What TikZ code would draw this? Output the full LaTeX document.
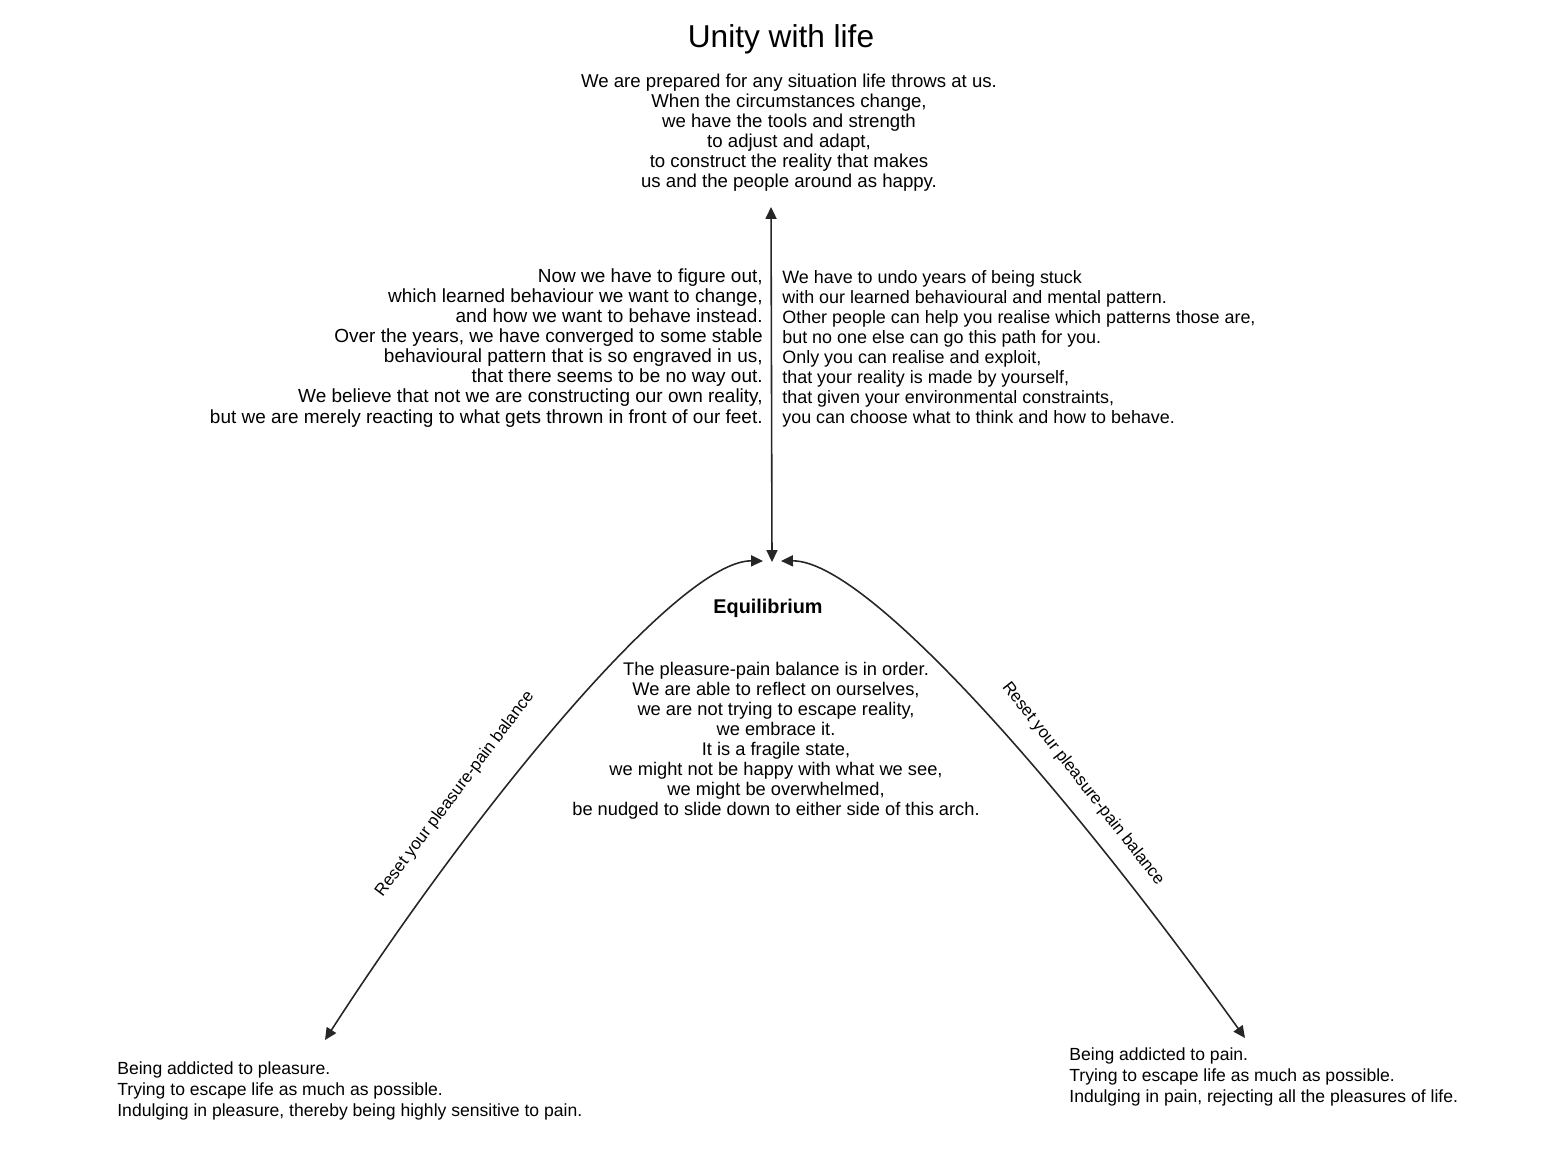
\documentclass[tikz,border=0pt]{standalone}
\usepackage{fontspec}
\setmainfont{Liberation Sans}
\usetikzlibrary{arrows.meta}
\tikzset{
  para/.style={inner sep=0pt, font=\fontsize{10.4}{11.4}\selectfont},
  lowpara/.style={inner sep=0pt, align=left, anchor=west, font=\fontsize{10}{12.2}\selectfont},
  heading/.style={inner sep=0pt, font=\fontsize{18}{20}\selectfont},
  link/.style={line width=0.9pt, draw=black!85, {Triangle[length=6.8pt,width=6.3pt]}-{Triangle[length=6.8pt,width=6.3pt]}},
  slope/.style={inner sep=0pt, font=\fontsize{9.6}{11}\selectfont},
}
\begin{document}
\begin{tikzpicture}[x=0.02cm, y=-0.02cm]
  \useasboundingbox (0,0) rectangle (1550,1158);

  % top
  \node[heading] (unity) at (781,39) {Unity with life};
  \node[para, align=center, font=\fontsize{10.6}{11.4}\selectfont] (unitytext) at (789,133) {We are prepared for any situation life throws at us.\\
    When the circumstances change,\\
    we have the tools and strength\\
    to adjust and adapt,\\
    to construct the reality that makes\\
    us and the people around as happy.};

  % the way up
  \node[para, align=right, anchor=east, font=\fontsize{10.8}{11.4}\selectfont] (learned) at (763,348) {Now we have to figure out,\\
    which learned behaviour we want to change,\\
    and how we want to behave instead.\\
    Over the years, we have converged to some stable\\
    behavioural pattern that is so engraved in us,\\
    that there seems to be no way out.\\
    We believe that not we are constructing our own reality,\\
    but we are merely reacting to what gets thrown in front of our feet.};
  \node[para, align=left, anchor=west, font=\fontsize{10.2}{11.4}\selectfont] (undo) at (782,349) {We have to undo years of being stuck\\
    with our learned behavioural and mental pattern.\\
    Other people can help you realise which patterns those are,\\
    but no one else can go this path for you.\\
    Only you can realise and exploit,\\
    that your reality is made by yourself,\\
    that given your environmental constraints,\\
    you can choose what to think and how to behave.};

  % the arch
  \node[inner sep=0pt, font=\fontsize{11.3}{13}\selectfont\bfseries] (equil) at (768,608) {Equilibrium};
  \node[para, align=center] (equiltext) at (776,741) {The pleasure-pain balance is in order.\\
    We are able to reflect on ourselves,\\
    we are not trying to escape reality,\\
    we embrace it.\\
    It is a fragile state,\\
    we might not be happy with what we see,\\
    we might be overwhelmed,\\
    be nudged to slide down to either side of this arch.};

  \node[lowpara] (pleasure) at (117,1091) {Being addicted to pleasure.\\
    Trying to escape life as much as possible.\\
    Indulging in pleasure, thereby being highly sensitive to pain.};
  \node[lowpara] (pain) at (1069,1077) {Being addicted to pain.\\
    Trying to escape life as much as possible.\\
    Indulging in pain, rejecting all the pleasures of life.};

  \node[slope, rotate=53] (resetL) at (455,794) {Reset your pleasure-pain balance};
  \node[slope, rotate=-52] (resetR) at (1083,784) {Reset your pleasure-pain balance};

  \coordinate (top) at (771,207);
  \coordinate (apex) at (772,562);
  \coordinate (apexL) at (763,561);
  \coordinate (apexR) at (781,561);
  \coordinate (endL) at (325,1040);
  \coordinate (endR) at (1245,1038);

  \draw[link] (top) -- (apex);
  \draw[link] (endL) .. controls (480,800) and (680,560) .. (apexL);
  \draw[link] (apexR) .. controls (865,560) and (1060,780) .. (endR);
\end{tikzpicture}
\end{document}
